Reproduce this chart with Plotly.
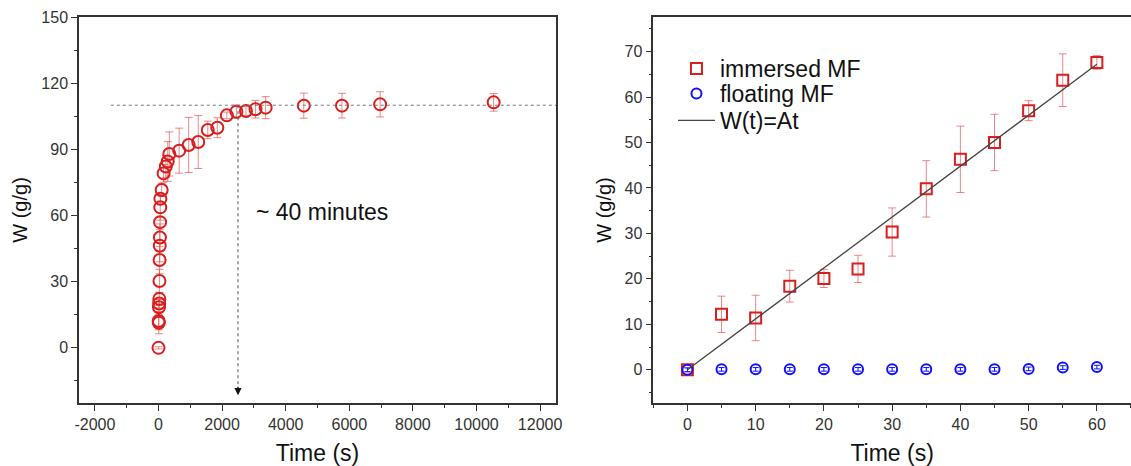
import plotly.graph_objects as go

# ---------------- data ----------------
# Left panel: immersed MF, long-time uptake
t_left = [0, 5, 10, 15, 20, 25, 30, 35, 40, 45, 50, 55, 60,
          100, 160, 230, 290, 340, 650, 950, 1250, 1550, 1850, 2150,
          2450, 2750, 3050, 3370, 4570, 5770, 6970, 10540]
w_left = [0, 12.2, 11.4, 18.4, 20.1, 22.2, 30.3, 39.8, 46.3, 50.0, 57.0, 63.7, 67.6,
          71.6, 79.1, 82.2, 84.5, 87.9, 89.4, 92.0, 93.3, 98.8, 99.8, 105.4,
          107.1, 107.4, 108.2, 108.9, 109.8, 109.8, 110.4, 111.3]
e_left = [0.5, 4.0, 5.0, 3.5, 2.0, 3.0, 5.3, 6.2, 7.3, 6.2, 2.2, 5.8, 1.5,
          3.0, 4.0, 5.0, 9.0, 10.0, 10.2, 12.5, 12.0, 4.0, 4.5, 1.5,
          3.0, 2.0, 4.0, 5.0, 5.7, 5.6, 5.7, 4.0]
left_xticks = [-2000, 0, 2000, 4000, 6000, 8000, 10000, 12000]
left_xticktext = ["-2000", "0", "2000", "4000", "6000", "8000", "10000", "12000"]

# Right panel: first minute
t_right = [0, 5, 10, 15, 20, 25, 30, 35, 40, 45, 50, 55, 60]
w_immersed = [0, 12.2, 11.4, 18.4, 20.1, 22.2, 30.3, 39.8, 46.3, 50.0, 57.0, 63.7, 67.6]
e_immersed = [0.5, 4.0, 5.0, 3.5, 2.0, 3.0, 5.3, 6.2, 7.3, 6.2, 2.2, 5.8, 1.5]
w_floating = [0, 0.1, 0.1, 0.1, 0.1, 0.1, 0.1, 0.1, 0.1, 0.1, 0.2, 0.5, 0.6]
e_floating = [0.4] * 13
fit_A = 1.12
t_fit = [0, 60]
w_fit = [fit_A * t for t in t_fit]

plateau = 110
t_mark = 2500

RED = "#d81e1e"
RED_ERR = "rgba(228,70,70,0.65)"
BLUE = "#1010ff"
FONT = "Arial, Liberation Sans, sans-serif"
AXC = "#333333"
TXT = "#111111"

fig = go.Figure()

fig.add_trace(go.Scatter(
    x=t_left, y=w_left, mode="markers", showlegend=False,
    marker=dict(symbol="circle-open", size=12, color=RED, line=dict(width=2, color=RED)),
    error_y=dict(type="data", array=e_left, color=RED_ERR, thickness=1, width=4),
    xaxis="x", yaxis="y"))

fig.add_trace(go.Scatter(
    x=t_right, y=w_immersed, mode="markers", name="immersed MF", legend="legend",
    marker=dict(symbol="square-open", size=11, color=RED, line=dict(width=2, color=RED)),
    error_y=dict(type="data", array=e_immersed, color=RED_ERR, thickness=1, width=4),
    xaxis="x2", yaxis="y2"))

fig.add_trace(go.Scatter(
    x=t_right, y=w_floating, mode="markers", name="floating MF", legend="legend2",
    marker=dict(symbol="circle-open", size=10, color=BLUE, line=dict(width=2, color=BLUE)),
    error_y=dict(type="data", array=e_floating, color=BLUE, thickness=1, width=3),
    xaxis="x2", yaxis="y2"))

fig.add_trace(go.Scatter(
    x=t_fit, y=w_fit, mode="lines", name="W(t)=At", legend="legend3",
    line=dict(color="#444444", width=1.3),
    xaxis="x2", yaxis="y2"))

# dotted guide lines on left panel
fig.add_shape(type="line", xref="x", yref="y", x0=-1500, x1=12500, y0=plateau, y1=plateau,
              line=dict(color="#777777", width=1, dash="dot"))
fig.add_shape(type="line", xref="x", yref="y", x0=t_mark, x1=t_mark, y0=plateau, y1=-19,
              line=dict(color="#555555", width=1, dash="dot"))
fig.add_annotation(xref="x", yref="y", x=t_mark, y=-21.5, ax=0, ay=-10, text="",
                   showarrow=True, arrowhead=2, arrowsize=1.2, arrowwidth=1.2, arrowcolor="#111111")
fig.add_annotation(xref="x", yref="y", x=3000, y=61.5, text="~ 40 minutes", showarrow=False,
                   xanchor="left", yanchor="middle", font=dict(family=FONT, size=23, color=TXT))

axis_common = dict(showline=True, linecolor=AXC, linewidth=1.5, ticks="outside", ticklen=6,
                   tickwidth=1.2, tickcolor=AXC, showgrid=False, zeroline=False,
                   tickfont=dict(family=FONT, size=16, color=AXC), automargin=False)

legend_common = dict(xanchor="left", yanchor="top", bgcolor="rgba(0,0,0,0)",
                     font=dict(family=FONT, size=23, color=TXT), itemwidth=37,
                     x=0.5646)

fig.update_layout(
    width=1131, height=466,
    margin=dict(l=79, r=0, t=17, b=63),
    paper_bgcolor="white", plot_bgcolor="white",
    font=dict(family=FONT, color=TXT),
    xaxis=dict(domain=[0, 0.4534], range=[-2500, 12500], tickvals=left_xticks,
               ticktext=left_xticktext, mirror=True,
               minor=dict(dtick=1000, ticks="outside", ticklen=3, tickcolor=AXC),
               title=dict(text="Time (s)", font=dict(size=23, family=FONT, color=TXT), standoff=13),
               anchor="y", **axis_common),
    yaxis=dict(domain=[0, 1], range=[-25, 150], dtick=30, mirror=True,
               minor=dict(dtick=15, ticks="outside", ticklen=3, tickcolor=AXC),
               title=dict(text="W (g/g)", font=dict(size=20, family=FONT, color=TXT), standoff=8),
               anchor="x", **axis_common),
    xaxis2=dict(domain=[0.5459, 1], range=[-5, 65], dtick=10, mirror=True,
                minor=dict(dtick=5, ticks="outside", ticklen=3, tickcolor=AXC),
                title=dict(text="Time (s)", font=dict(size=23, family=FONT, color=TXT), standoff=13),
                anchor="y2", **axis_common),
    yaxis2=dict(domain=[0, 1], range=[-7.3, 77.6], dtick=10, mirror=False,
                minor=dict(dtick=5, ticks="outside", ticklen=3, tickcolor=AXC),
                title=dict(text="W (g/g)", font=dict(size=20, family=FONT, color=TXT), standoff=8),
                anchor="x2", **axis_common),
    legend=dict(y=0.9223, **legend_common),
    legend2=dict(y=0.8575, **legend_common),
    legend3=dict(y=0.7876, **legend_common),
)

fig.write_html("out.html")
